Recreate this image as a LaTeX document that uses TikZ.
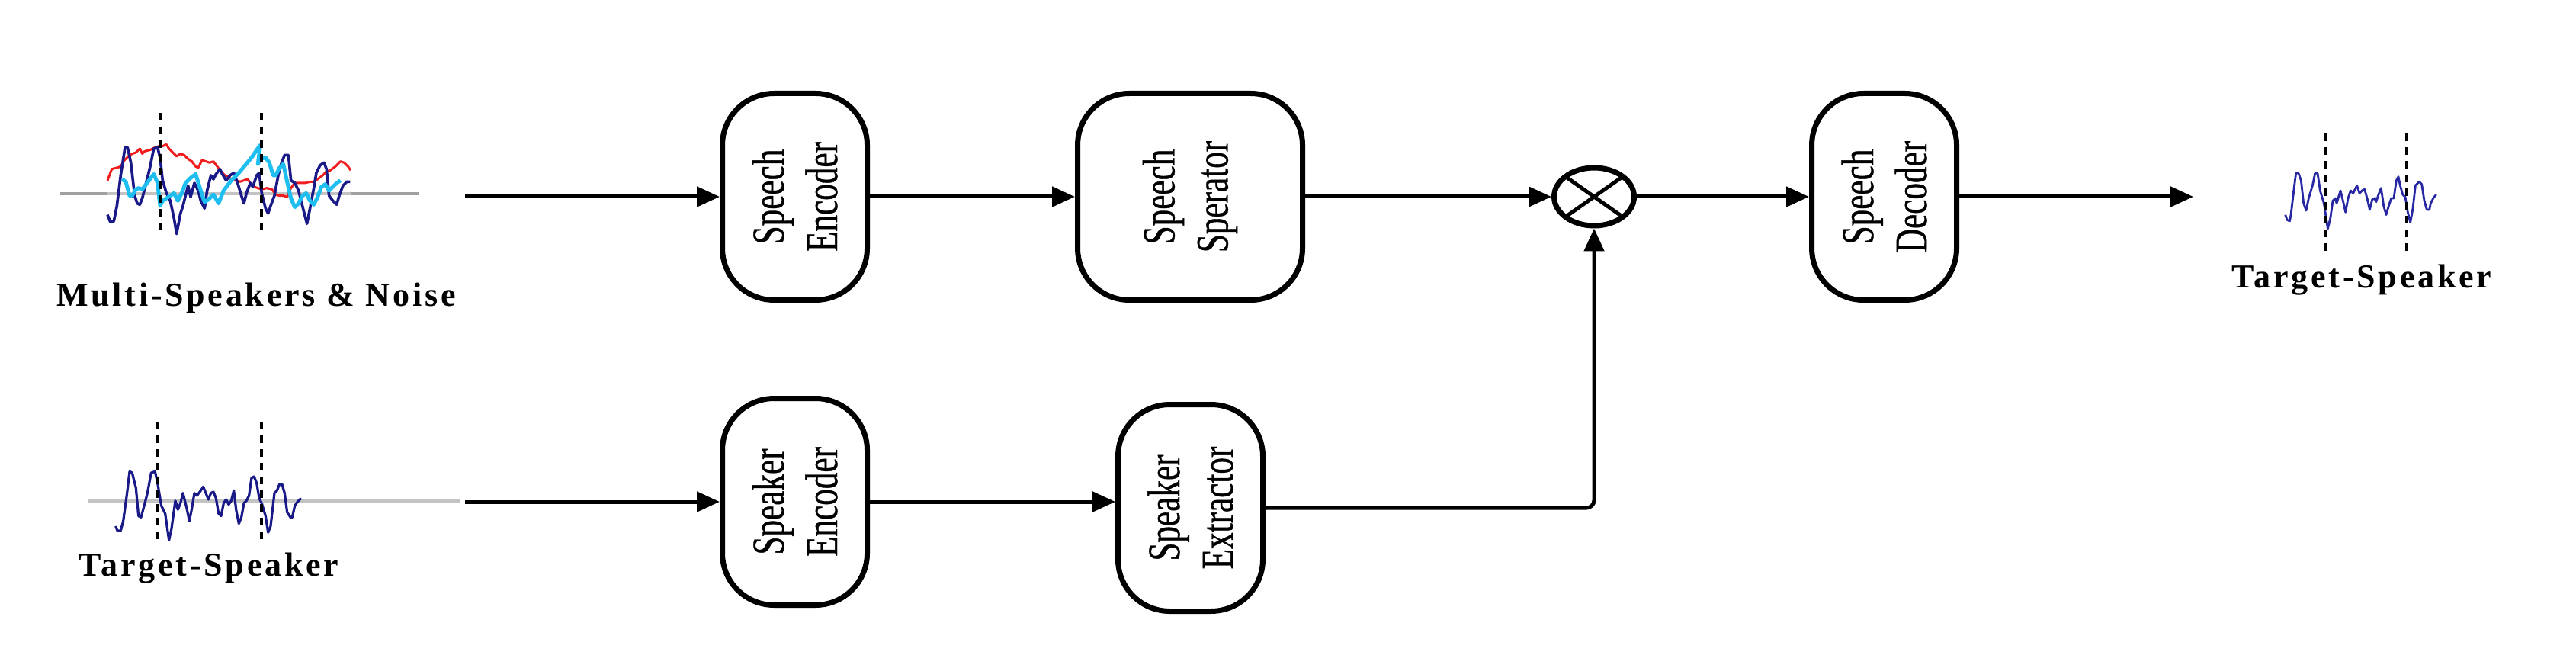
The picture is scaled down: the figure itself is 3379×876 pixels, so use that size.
\documentclass[tikz,border=0pt]{standalone}
\usepackage{fontspec}
\usetikzlibrary{arrows.meta,shapes.geometric}
\newfontfamily\boxfont[FakeStretch=0.72,FakeBold=0.6]{Liberation Serif}
\newfontfamily\lblfont[LetterSpace=8.5]{Liberation Serif Bold}
\definecolor{wnavy}{RGB}{25,25,135}
\definecolor{wblue}{RGB}{40,40,165}
\definecolor{wcyan}{RGB}{30,190,240}
\definecolor{wred}{RGB}{240,30,30}
\definecolor{wgray}{RGB}{160,160,160}
\definecolor{wlgray}{RGB}{195,195,195}
\begin{document}
\begin{tikzpicture}[x=0.25pt,y=-0.25pt,
  blk/.style={draw, line width=1.75pt, rounded corners=17pt, minimum width=47.5pt, minimum height=67.75pt, inner sep=0pt},
  blktext/.style={rotate=90, align=center, inner sep=0pt, font=\boxfont\fontsize{15pt}{17.5pt}\selectfont},
  arr/.style={line width=1.25pt, -{Triangle[length=7.5pt,width=6.5pt]}},
  dsh/.style={line width=1pt, dash pattern=on 2.5pt off 2pt},
  lbl/.style={font=\lblfont\fontsize{11pt}{13pt}\selectfont, anchor=base, inner sep=0pt},
  gline/.style={line width=1pt, wgray}
]
\useasboundingbox (0,0) rectangle (3379,876);

% ---------- blocks ----------
\node[blk] (enc1) at (1042.5,258) {};
\node[blktext] (enc1t) at (enc1) {Speech\\Encoder};
\node[blk, minimum width=73.75pt] (sep) at (1561,258) {};
\node[blktext] (sept) at (sep) {Speech\\Sperator};
\node[blk] (dec) at (2471.5,258) {};
\node[blktext] (dect) at (dec) {Speech\\Decoder};
\node[blk] (spk) at (1042.5,658) {};
\node[blktext] (spkt) at (spk) {Speaker\\Encoder};
\node[blk] (ext) at (1561.5,666) {};
\node[blktext] (extt) at (ext) {Speaker\\Extractor};

\node[draw, ellipse, line width=1.75pt, minimum width=26.25pt, minimum height=19pt, inner sep=0pt] (mul) at (2091,258) {};
\draw[line width=1.25pt] ([shift={(-37,-26)}]mul.center) -- ([shift={(37,26)}]mul.center);
\draw[line width=1.25pt] ([shift={(-37,26)}]mul.center) -- ([shift={(37,-26)}]mul.center);

% ---------- connectors ----------
\coordinate (in1) at (610,258);
\coordinate (in2) at (610,658);
\coordinate (out1) at (2877,258);
\draw[arr] (in1) -- (enc1.west);
\draw[arr] (enc1.east) -- (sep.west);
\draw[arr] (sep.east) -- (mul.west);
\draw[arr] (mul.east) -- (dec.west);
\draw[arr] (dec.east) -- (out1);
\draw[arr] (in2) -- (spk.west);
\draw[arr] (spk.east) -- (spk.east -| ext.west);
\draw[arr, rounded corners=2.5pt] (ext.east) -- (ext.east -| mul.south) -- (mul.south);

% ---------- top-left waveform ----------
\draw[gline] (79,254) -- (550,254);
\draw[line width=1pt, wlgray] (141,254) -- (460,254);
\begin{scope}[xshift=12.5pt, yshift=-32.5pt, x=0.083333pt, y=-0.083333pt]
\draw[wred, line width=0.75pt, line join=round] plot coordinates {(273,320) (290,275) (310,270) (325,265) (340,240) (355,225) (370,215) (385,210) (400,195) (410,215) (420,205) (440,200) (460,190) (475,185) (490,185) (505,178) (515,195) (530,210) (545,225) (560,215) (575,220) (590,235) (605,245) (620,265) (630,270) (645,240) (660,245) (675,250) (690,245) (705,265) (720,285) (735,300) (750,305) (765,320) (780,320) (795,325) (810,320) (825,315) (835,330) (850,345) (865,350) (880,355) (900,350) (920,355) (935,375) (950,380) (965,380) (980,385) (995,350) (1010,330) (1030,330) (1050,330) (1070,325) (1085,325) (1100,315) (1120,300) (1135,285) (1150,280) (1170,265) (1190,245) (1205,250) (1220,265) (1230,280)};
\draw[wnavy, line width=0.9pt, line join=round] plot coordinates {(273,455) (285,485) (298,480) (310,420) (325,300) (342,190) (352,190) (365,250) (380,380) (390,410) (400,415) (410,390) (425,330) (440,270) (455,195) (470,190) (480,230) (490,320) (505,370) (520,400) (535,470) (545,530) (560,450) (570,420) (580,380) (590,340) (600,385) (615,330) (630,360) (640,400) (655,430) (665,360) (680,300) (690,315) (700,295) (715,275) (725,295) (740,320) (755,300) (770,290) (785,330) (800,380) (810,410) (820,370) (835,330) (845,345) (860,300) (870,290) (880,370) (895,430) (905,450) (915,420) (930,380) (945,300) (955,260) (970,220) (985,220) (995,320) (1010,330) (1025,360) (1040,420) (1058,490) (1070,430) (1085,350) (1095,290) (1110,260) (1125,250) (1135,275) (1145,380) (1160,400) (1175,415) (1185,380) (1200,340) (1215,325) (1228,325)};
\draw[wcyan, line width=1.25pt, line join=round] plot coordinates {(330,315) (345,325) (360,380) (370,380) (385,355) (395,350) (410,355) (425,335) (440,315) (455,295) (470,330) (480,420) (490,400) (505,390) (520,380) (535,370) (550,400) (565,370) (580,330) (600,310) (620,295) (640,360) (655,405) (670,395) (690,375) (710,410) (730,360) (760,320) (790,290) (815,260) (840,230) (860,200) (875,180) (870,215) (865,255) (875,235) (895,230) (910,250) (925,300) (935,300) (950,270) (965,255) (980,325) (995,390) (1010,425) (1025,410) (1040,380) (1055,370) (1070,400) (1085,415) (1100,385) (1115,345) (1130,335) (1145,360) (1160,345) (1175,330) (1190,320)};
\end{scope}
\draw[dsh] (210,148) -- (210,308);
\draw[dsh] (343,148) -- (343,308);
\node[lbl] (lblmix) at (336,402) {Multi-Speakers \& Noise};

% ---------- bottom-left waveform ----------
\draw[line width=1pt, wlgray] (115,657) -- (603,657);
\begin{scope}[xshift=0pt, yshift=-130pt, x=0.083333pt, y=-0.083333pt]
\draw[wnavy, line width=0.8pt, line join=round] plot coordinates {(455,510) (462,528) (475,528) (485,490) (500,380) (510,295) (520,300) (535,360) (545,470) (555,475) (570,420) (580,380) (595,300) (610,295) (620,340) (635,430) (650,460) (665,565) (675,520) (690,410) (700,445) (710,420) (720,380) (735,440) (745,490) (755,440) (765,380) (775,390) (790,370) (800,355) (810,380) (820,405) (830,380) (840,375) (850,400) (860,460) (870,470) (880,420) (890,405) (900,425) (910,410) (920,370) (930,450) (940,500) (950,475) (960,420) (970,410) (980,390) (990,320) (1000,315) (1010,340) (1020,400) (1030,420) (1045,470) (1055,535) (1065,510) (1080,380) (1090,370) (1100,345) (1110,345) (1120,380) (1130,455) (1145,478) (1150,475) (1160,430) (1170,415) (1185,400)};
\end{scope}
\draw[dsh] (207,553) -- (207,713);
\draw[dsh] (343,553) -- (343,713);
\node[lbl] (lbltgt1) at (274,755) {Target-Speaker};

% ---------- right waveform ----------
\begin{scope}[xshift=737.5pt, yshift=-37.5pt, x=0.083333pt, y=-0.083333pt]
\draw[wblue, line width=0.7pt, line join=round] plot coordinates {(143,395) (150,415) (160,420) (165,395) (175,310) (185,230) (195,232) (205,260) (215,350) (225,378) (235,330) (250,280) (260,232) (270,232) (280,300) (295,350) (310,450) (320,410) (330,340) (340,330) (345,350) (360,300) (370,340) (380,385) (390,330) (400,300) (410,310) (425,280) (435,310) (445,300) (455,295) (465,330) (475,375) (485,335) (495,330) (500,345) (510,315) (520,290) (530,360) (540,395) (550,360) (560,330) (570,330) (580,260) (588,245) (595,280) (605,315) (615,325) (625,385) (635,425) (645,370) (655,280) (670,265) (680,275) (690,340) (700,375) (710,375) (715,350) (725,330) (737,315)};
\end{scope}
\draw[dsh] (3050,175) -- (3050,333);
\draw[dsh] (3157,175) -- (3157,333);
\node[lbl] (lbltgt2) at (3098,378) {Target-Speaker};
\end{tikzpicture}
\end{document}
